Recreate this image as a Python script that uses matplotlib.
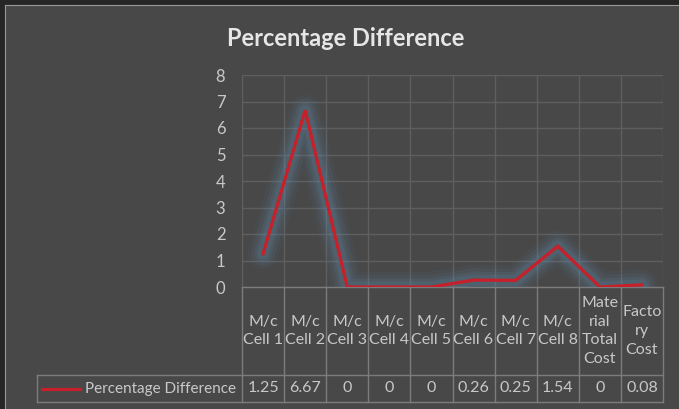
import matplotlib.pyplot as plt
from matplotlib.lines import Line2D
from matplotlib.patches import Rectangle

categories = ["M/c\nCell 1", "M/c\nCell 2", "M/c\nCell 3", "M/c\nCell 4", "M/c\nCell 5",
              "M/c\nCell 6", "M/c\nCell 7", "M/c\nCell 8", "Mate\nrial\nTotal\nCost",
              "Facto\nry\nCost"]
values = [1.25, 6.67, 0, 0, 0, 0.26, 0.25, 1.54, 0, 0.08]
value_labels = ["1.25", "6.67", "0", "0", "0", "0.26", "0.25", "1.54", "0", "0.08"]
series_name = "Percentage Difference"
yticks = [0, 1, 2, 3, 4, 5, 6, 7, 8]

bg = "#484848"
grid_c = "#5f5f5f"
table_c = "#7c7c7c"
txt_c = "#c8c8c8"
red = "#c8202a"
glow = "#5e86a6"

plt.rcParams['font.family'] = ['Lato', 'DejaVu Sans']

W, H = 679, 409
fig = plt.figure(figsize=(W / 100, H / 100), dpi=100, facecolor=bg)

# frame on top/left edges
fig.patches.append(Rectangle((0, 0), 4 / W, 1, transform=fig.transFigure, color="#262626", zorder=0))
fig.patches.append(Rectangle((0, 1 - 4 / H), 1, 4 / H, transform=fig.transFigure, color="#262626", zorder=0))
fig.lines.append(Line2D([4.5 / W, 4.5 / W], [0, 1 - 4.5 / H], transform=fig.transFigure, color="#9a9a9a", lw=0.8))
fig.lines.append(Line2D([4.5 / W, 1], [1 - 4.5 / H, 1 - 4.5 / H], transform=fig.transFigure, color="#9a9a9a", lw=0.8))

left, right, top, zero = 242, 663, 75, 287
ax = fig.add_axes([left / W, 1 - zero / H, (right - left) / W, (zero - top) / H])
ax.set_facecolor(bg)

n = len(values)
x = list(range(n))

# glow
for lw, a in [(22, 0.07), (17, 0.10), (12, 0.15), (8, 0.2)]:
    ax.plot(x, values, color=glow, lw=lw, alpha=a, solid_joinstyle='round',
            solid_capstyle='round', zorder=3)
ax.plot(x, values, color=red, lw=2.3, solid_joinstyle='miter', zorder=4)

ax.set_xlim(-0.5, n - 0.5)
ax.set_ylim(0, 8)
ax.set_yticks(yticks)
ax.set_xticks([i - 0.5 for i in range(n + 1)])
ax.set_xticklabels([])
ax.tick_params(axis='both', length=0, labelcolor=txt_c, labelsize=12)
ax.tick_params(axis='y', pad=12)
ax.grid(True, color=grid_c, lw=1.0)
ax.set_axisbelow(True)
for s in ax.spines.values():
    s.set_visible(False)

# data table below the axes
hdr_bot = -(375 - zero) / (zero - top)
row_bot = -(402 - zero) / (zero - top)
leg_left = (37 - left) / (right - left)
kw = dict(transform=ax.transAxes, clip_on=False, color=table_c, lw=1.0)
ax.add_line(Line2D([0, 1], [0, 0], **kw))
ax.add_line(Line2D([leg_left, 1], [hdr_bot, hdr_bot], **kw))
ax.add_line(Line2D([leg_left, 1], [row_bot, row_bot], **kw))
ax.add_line(Line2D([leg_left, leg_left], [hdr_bot, row_bot], **kw))
for i in range(n + 1):
    ax.add_line(Line2D([i / n, i / n], [0, row_bot], **kw))

fs = 11.5
for i in range(n):
    cx = (i + 0.5) / n
    ax.text(cx, hdr_bot / 2, categories[i], transform=ax.transAxes, ha='center', va='center',
            color=txt_c, fontsize=fs, linespacing=1.45)
    ax.text(cx, (hdr_bot + row_bot) / 2, value_labels[i], transform=ax.transAxes,
            ha='center', va='center', color=txt_c, fontsize=fs)

ym = (hdr_bot + row_bot) / 2
ax.add_line(Line2D([(42 - left) / (right - left), (80 - left) / (right - left)], [ym, ym],
                   transform=ax.transAxes, clip_on=False, color=red, lw=2.3))
ax.text((236 - left) / (right - left), ym, series_name, transform=ax.transAxes,
        ha='right', va='center', color=txt_c, fontsize=11)

fig.text(346 / W, 1 - 38 / H, "Percentage Difference", ha='center', va='center',
         color="#e6e6e6", fontsize=17, fontweight='bold')

fig.savefig("out.png", dpi=100, facecolor=bg)
